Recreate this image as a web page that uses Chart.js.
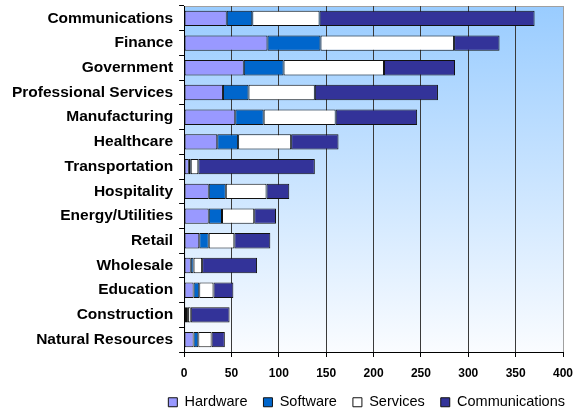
<!DOCTYPE html>
<html>
<head>
<meta charset="utf-8">
<script src="https://cdn.jsdelivr.net/npm/chart.js@4"></script>
<style>
  html, body { margin: 0; padding: 0; background: #fff; }
  #wrap { width: 573px; height: 408px; }
</style>
</head>
<body>
<div id="wrap"><canvas id="industryChart" width="573" height="408"></canvas></div>
<script>
// Spend by industry, stacked by category
const industries = ["Communications", "Finance", "Government", "Professional Services", "Manufacturing",
    "Healthcare", "Transportation", "Hospitality", "Energy/Utilities", "Retail", "Wholesale",
    "Education", "Construction", "Natural Resources"];
const hardware = [45, 88, 63, 41, 54, 35, 5, 26, 26, 16, 7, 10, 2, 10];
const software = [27, 56, 42, 27, 30, 22, 2, 18, 14, 10, 3, 6, 2, 5];
const services = [71, 141, 106, 70, 76, 56, 8, 43, 34, 27, 9, 15, 3, 14];
const communications = [227, 48, 75, 130, 86, 50, 123, 24, 23, 38, 58, 21, 41, 14];
const xTicks = [0, 50, 100, 150, 200, 250, 300, 350, 400];

// Plot area background: blue fading to white, with a grey frame
const plotBackground = {
    id: "plotBackground",
    beforeDraw(chart) {
        const { ctx, chartArea: a } = chart;
        const grad = ctx.createLinearGradient(0, a.top, 0, a.bottom);
        grad.addColorStop(0, "#99CCFF");
        grad.addColorStop(1, "#FAFCFF");
        ctx.save();
        ctx.fillStyle = grad;
        ctx.fillRect(a.left, a.top, a.right - a.left, a.bottom - a.top);
        ctx.strokeStyle = "#A0A0A0";
        ctx.lineWidth = 1;
        ctx.strokeRect(a.left + 0.5, a.top + 0.5, a.right - a.left, a.bottom - a.top);
        ctx.restore();
    }
};

// Compact legend row, nudged right under the plot
const legendPlacement = {
    id: "legendPlacement",
    afterInit(chart) {
        const legend = chart.legend;
        const fit = legend.fit;
        legend.fit = function () {
            fit.call(this);
            this.height = 29;
        };
    },
    afterLayout(chart) {
        chart.legend.left += 8;
        chart.legend.right += 8;
    }
};

const bar = (label, data, color) => ({
    label: label,
    data: data,
    backgroundColor: color,
    borderColor: "#111111",
    borderWidth: 1,
    borderSkipped: false,
    barPercentage: 0.62,
    categoryPercentage: 1
});

const ctx = document.getElementById("industryChart").getContext("2d");
const industryChart = new Chart(ctx, {
    type: "bar",
    data: {
        labels: industries,
        datasets: [
            bar("Hardware", hardware, "#9999FF"),
            bar("Software", software, "#0066CC"),
            bar("Services", services, "#FFFFFF"),
            bar("Communications", communications, "#333399")
        ]
    },
    options: {
        indexAxis: "y",
        responsive: false,
        animation: false,
        layout: { padding: { top: 6, right: 0, left: 6, bottom: 0 } },
        scales: {
            x: {
                stacked: true,
                min: 0,
                max: 400,
                afterBuildTicks: (axis) => { axis.ticks = xTicks.map(v => ({ value: v })); },
                afterFit: (scale) => { scale.paddingRight = 10; scale.height = 27; },
                grid: {
                    color: (c) => c.index === xTicks.length - 1 ? "#A0A0A0" : "#3A3A3A",
                    tickColor: "#000",
                    tickLength: 5,
                    lineWidth: 1
                },
                border: { color: "#000", width: 1 },
                ticks: {
                    color: "#000",
                    padding: 9,
                    font: { family: "Liberation Sans, Arial", size: 12, weight: "bold" }
                }
            },
            y: {
                stacked: true,
                afterFit: (scale) => { scale.paddingTop = 0; scale.paddingBottom = 0; },
                grid: {
                    offset: true,
                    drawOnChartArea: false,
                    tickColor: "#000",
                    tickLength: 5
                },
                border: { color: "#000", width: 1 },
                ticks: {
                    autoSkip: false,
                    color: "#000",
                    padding: 6,
                    font: { family: "Liberation Sans, Arial", size: 15.5, weight: "bold" }
                }
            }
        },
        plugins: {
            legend: {
                position: "bottom",
                align: "end",
                labels: {
                    boxWidth: 9,
                    boxHeight: 9,
                    padding: 16,
                    color: "#000",
                    font: { family: "Liberation Sans, Arial", size: 14.5 }
                }
            },
            tooltip: { enabled: false }
        }
    },
    plugins: [plotBackground, legendPlacement]
});
</script>
</body>
</html>
